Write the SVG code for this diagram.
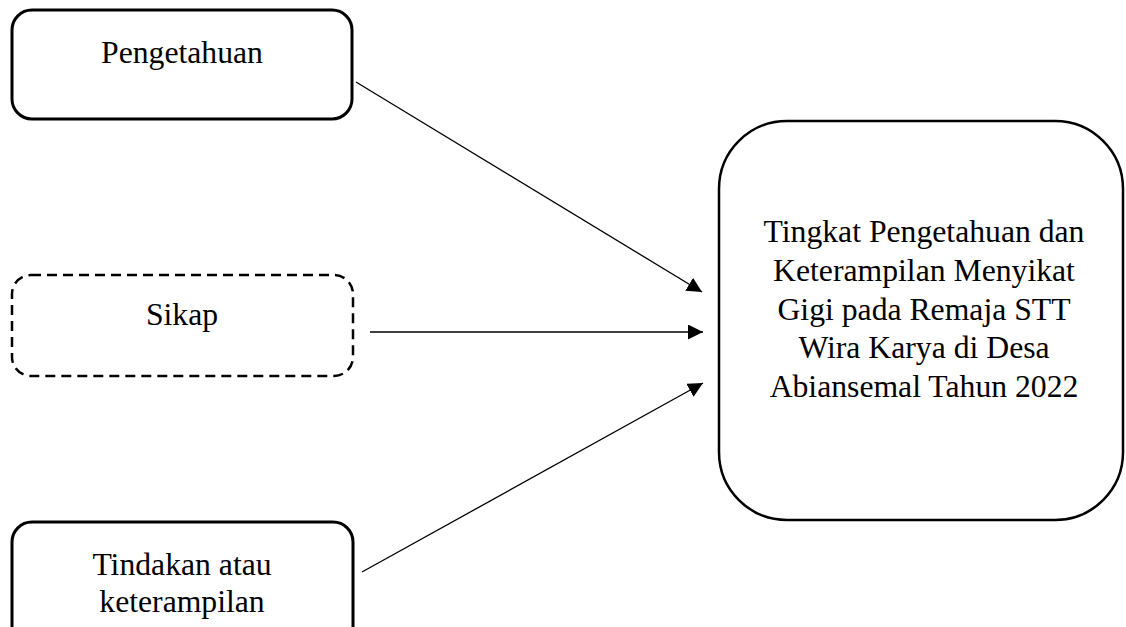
<svg xmlns="http://www.w3.org/2000/svg" width="1126" height="627" viewBox="0 0 1126 627">
<style>
.box{fill:#fff;stroke:#000;stroke-width:3}
.dash{fill:#fff;stroke:#000;stroke-width:2.5;stroke-dasharray:10 6}
.big{fill:#fff;stroke:#000;stroke-width:2.5}
.lbl{font-family:"Liberation Serif","Times New Roman",serif;font-size:31.7px;fill:#000;text-anchor:middle}
.conn{stroke:#000;stroke-width:1.3;fill:none;marker-end:url(#ah)}
</style>
<defs>
<marker id="ah" markerUnits="userSpaceOnUse" markerWidth="16" markerHeight="16" refX="15" refY="7.5" orient="auto">
<path d="M0,0 L15,7.5 L0,15 z" fill="#000"/>
</marker>
</defs>
<rect width="1126" height="627" fill="#fff"/>
<g id="connectors">
<line class="conn" x1="356" y1="82" x2="702" y2="292"/>
<line class="conn" x1="370" y1="332" x2="703" y2="332"/>
<line class="conn" x1="362" y1="572" x2="703" y2="383"/>
</g>
<g id="pengetahuan">
<rect class="box" x="12" y="10" width="340" height="109" rx="20"/>
<text class="lbl" x="182" y="63">Pengetahuan</text>
</g>
<g id="sikap">
<rect class="dash" x="12" y="275" width="341" height="101" rx="19"/>
<text class="lbl" x="182" y="325">Sikap</text>
</g>
<g id="tindakan">
<rect class="box" x="12" y="522" width="341" height="130" rx="20"/>
<text class="lbl" x="182" y="575">Tindakan atau</text>
<text class="lbl" x="182" y="612">keterampilan</text>
</g>
<g id="tingkat">
<rect class="big" x="719" y="121" width="404" height="399" rx="68"/>
<text class="lbl" x="924" y="242">Tingkat Pengetahuan dan</text>
<text class="lbl" x="924" y="281">Keterampilan Menyikat</text>
<text class="lbl" x="924" y="320">Gigi pada Remaja STT</text>
<text class="lbl" x="924" y="358">Wira Karya di Desa</text>
<text class="lbl" x="924" y="397">Abiansemal Tahun 2022</text>
</g>
</svg>
